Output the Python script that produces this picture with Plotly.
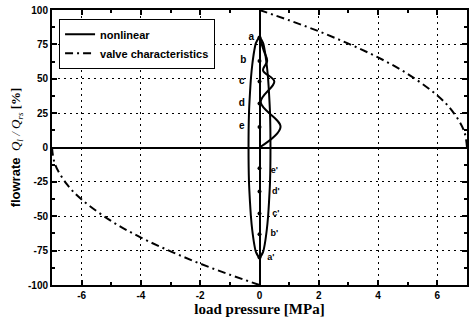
import plotly.graph_objects as go

# ---- data ----
# valve characteristics (dash-dot), right branch
valve_p_pos = [0, 1, 2, 3, 4, 5, 6, 6.5, 6.9, 7]
valve_q_pos = [100, 92.5, 84.5, 75.5, 65.5, 53.5, 37.8, 26.7, 12, 0]
# left branch
valve_p_neg = [-7, -6.9, -6.5, -6, -5, -4, -3, -2, -1, 0]
valve_q_neg = [0, -12, -26.7, -37.8, -53.5, -65.5, -75.5, -84.5, -92.5, -100]

# nonlinear: closed lens-shaped loop
lens_p = [0, 0.12, 0.18, 0.245, 0.29, 0.32, 0.355, 0.37, 0.355, 0.32, 0.29, 0.245, 0.18, 0.12, 0,
          -0.12, -0.18, -0.245, -0.29, -0.32, -0.355, -0.37, -0.355, -0.32, -0.29, -0.245, -0.18, -0.12, 0]
lens_q = [80, 76, 70, 60, 50, 40, 25, 0, -25, -40, -50, -60, -70, -76, -80,
          -76, -70, -60, -50, -40, -25, 0, 25, 40, 50, 60, 70, 76, 80]

# nonlinear: oscillating transient from a to origin
wave_p = [0, 0.15, 0.26, 0.12, 0.5, 0.04, 0.71, 0]
wave_q = [80, 70, 63, 56, 48, 33, 15, 0]

# state markers on the centre line
mark_p = [0, 0, 0, 0, 0, 0, 0, 0, 0, 0]
mark_q = [80, 63, 48, 32, 15, -15, -32, -48, -63, -80]

# point labels
lab_text = ["a", "b", "c", "d", "e"]
lab_p = [-0.28, -0.55, -0.6, -0.6, -0.6]
lab_q = [80, 63, 48, 32, 15]
labp_text = ["e'", "d'", "c'", "b'", "a'"]
labp_p = [0.5, 0.55, 0.55, 0.5, 0.38]
labp_q = [-17, -32.5, -48, -62.5, -80]

x_ticks = [-6, -4, -2, 0, 2, 4, 6]
y_ticks = [-100, -75, -50, -25, 0, 25, 50, 75, 100]

sans = "Liberation Sans"
serif = "Liberation Serif"
dashdot = "8px,4px,2px,4px"

fig = go.Figure()

fig.add_trace(go.Scatter(x=lens_p, y=lens_q, mode="lines", name="nonlinear",
                         line=dict(color="black", width=2, shape="spline", smoothing=0.6),
                         showlegend=True))
fig.add_trace(go.Scatter(x=wave_p, y=wave_q, mode="lines", name="nonlinear",
                         line=dict(color="black", width=2, shape="spline", smoothing=1.0),
                         showlegend=False))
fig.add_trace(go.Scatter(x=valve_p_pos, y=valve_q_pos, mode="lines", name="valve characteristics",
                         line=dict(color="black", width=2, dash=dashdot, shape="spline"),
                         showlegend=True))
fig.add_trace(go.Scatter(x=valve_p_neg, y=valve_q_neg, mode="lines", name="valve characteristics",
                         line=dict(color="black", width=2, dash=dashdot, shape="spline"),
                         showlegend=False))
fig.add_trace(go.Scatter(x=mark_p, y=mark_q, mode="markers", showlegend=False,
                         marker=dict(color="black", size=4)))
fig.add_trace(go.Scatter(x=lab_p, y=lab_q, mode="text", text=lab_text, showlegend=False,
                         textfont=dict(family=sans, size=10, color="black", weight="bold")))
fig.add_trace(go.Scatter(x=labp_p, y=labp_q, mode="text", text=labp_text, showlegend=False,
                         textfont=dict(family=sans, size=9, color="black", weight="bold")))

axis_common = dict(
    showline=True, linecolor="black", linewidth=2, mirror="ticks",
    ticks="inside", ticklen=5, tickwidth=2, tickcolor="black",
    showgrid=True, gridcolor="black", gridwidth=1, griddash="2px,4px",
    zeroline=True, zerolinecolor="black", zerolinewidth=2,
    tickfont=dict(family=sans, size=10, color="black", weight="bold"),
)

fig.update_xaxes(range=[-7, 7], tickvals=x_ticks, ticktext=[str(v) for v in x_ticks],
                 minor=dict(ticks="inside", ticklen=3, tickwidth=2, tickcolor="black",
                            dtick=1, tick0=0, showgrid=False),
                 title=dict(text="load pressure [MPa]", standoff=2,
                            font=dict(family=serif, size=15, color="black", weight="bold")),
                 **axis_common)
fig.update_yaxes(range=[-100, 100], tickvals=y_ticks, ticktext=[str(v) for v in y_ticks],
                 minor=dict(ticks="inside", ticklen=3, tickwidth=2, tickcolor="black",
                            dtick=12.5, tick0=0, showgrid=False),
                 title=dict(text="<span style='font-family:Liberation Sans'><b>flowrate</b></span>"
                                 "  <i>Q<sub>l</sub> / Q<sub>rs</sub></i> <b>[%]</b>",
                            standoff=4,
                            font=dict(family=serif, size=13, color="black")),
                 **axis_common)

fig.update_layout(
    width=471, height=321,
    margin=dict(l=52, r=2, t=10, b=36),
    paper_bgcolor="white", plot_bgcolor="white",
    showlegend=True,
    legend=dict(x=0.017, y=0.968, xanchor="left", yanchor="top",
                bgcolor="white", bordercolor="black", borderwidth=1,
                font=dict(family=sans, size=11, color="black", weight="bold"),
                tracegroupgap=0, itemwidth=30),
)

fig.write_html("out.html")
